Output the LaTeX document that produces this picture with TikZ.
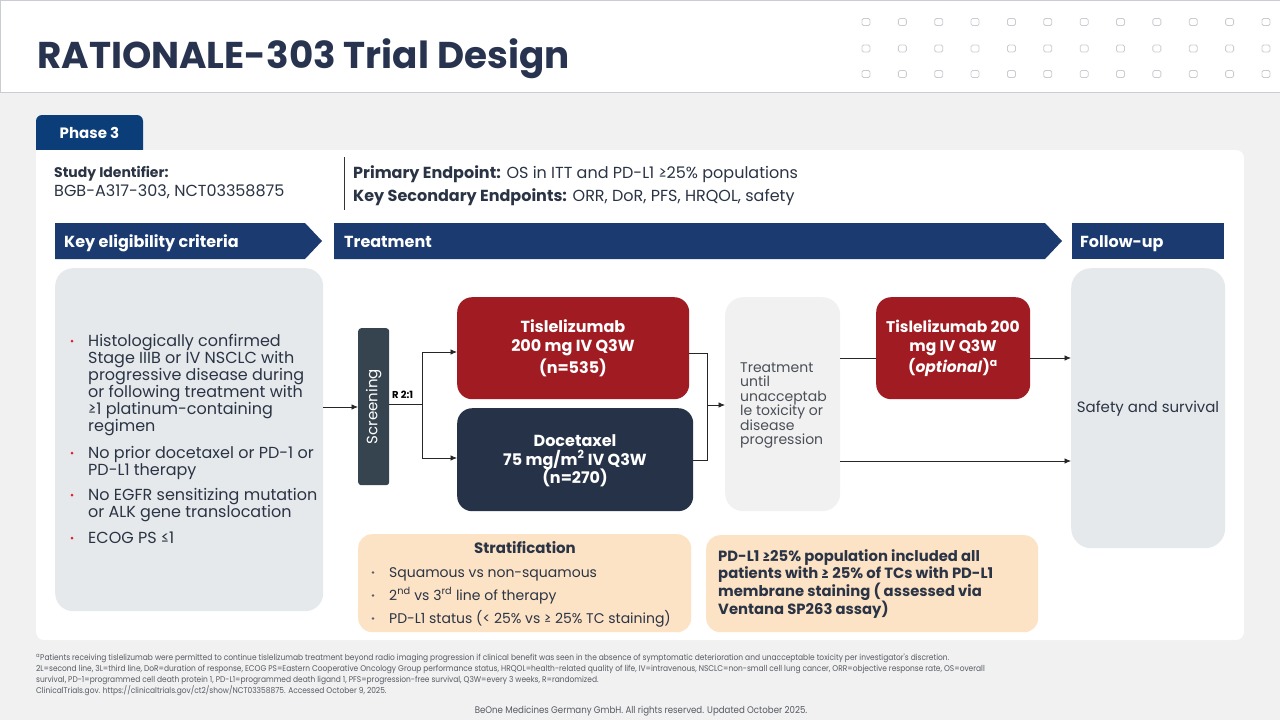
\documentclass[tikz,border=0pt]{standalone}
\usepackage{fontspec}
\setmainfont{Poppins}
\newfontfamily\condfont[FakeStretch=0.9]{Poppins}
\usetikzlibrary{arrows.meta}
\definecolor{bgc}{HTML}{F1F1F1}
\definecolor{titlec}{HTML}{283350}
\definecolor{navy}{HTML}{1B3A70}
\definecolor{tabc}{HTML}{0B3D78}
\definecolor{redc}{HTML}{A11C22}
\definecolor{docc}{HTML}{263248}
\definecolor{scrc}{HTML}{36444F}
\definecolor{grayc}{HTML}{E6E9EC}
\definecolor{peach}{HTML}{FDE3C6}
\definecolor{txtc}{HTML}{2B3445}
\definecolor{untilc}{HTML}{4A4F57}
\definecolor{dotc}{HTML}{C9CDD2}
\definecolor{lightbox}{HTML}{F1F1F1}
\definecolor{bulletred}{HTML}{E0202A}
\definecolor{footc}{HTML}{555A62}
\begin{document}
\begin{tikzpicture}[x=1pt,y=-1pt,
  arr/.style={-{Latex[length=6.5pt,width=5.5pt]}, line width=0.8pt, draw=black!85},
  conn/.style={line width=0.8pt, draw=black!85},
  lbl/.style={inner sep=0pt, anchor=base west, text=txtc},
  clbl/.style={inner sep=0pt, anchor=base, text=white, font=\bfseries\fontsize{15.5}{18}\selectfont},
  boxn/.style={inner sep=0pt, anchor=north west, draw=none},
  bigf/.style={font=\fontsize{16}{17}\selectfont},
  banner/.style={inner sep=0pt, anchor=base west, text=white, font=\bfseries\fontsize{16}{18}\selectfont},
  bdot/.style={circle, fill=bulletred, inner sep=0pt, minimum size=3pt},
  sdot/.style={circle, fill=txtc!80, inner sep=0pt, minimum size=2.6pt},
  foot/.style={inner sep=0pt, anchor=base west, text=footc, font=\condfont\fontsize{8.3}{9}\selectfont},
]
\useasboundingbox (0,0) rectangle (1280,720);
\fill[bgc] (0,0) rectangle (1280,720);
% header
\fill[white] (0,0) rectangle (1280,92);
\draw[dotc, line width=1pt] (0,0.5) -- (1280,0.5) (0,92) -- (1280,92) (0.5,0) -- (0.5,92);
\node[lbl, text=titlec, font=\bfseries\fontsize{37.3}{40}\selectfont] (title) at (37,68) {RATIONALE-303 Trial Design};
\foreach \i in {0,...,11} \foreach \j in {22,48.5,74}
  \draw[dotc, line width=0.8pt, rounded corners=1.5pt] ({866+36.36*\i-4},\j-3.5) rectangle ++(8,7);
% tab and panel
\fill[tabc, rounded corners=6pt] (36,115) rectangle (143,160);
\fill[white, rounded corners=8pt] (36,150) rectangle (1244,640);
\fill[white] (36,150) rectangle (50,165);
\node[inner sep=0pt, anchor=base, text=white, font=\bfseries\fontsize{15}{18}\selectfont] (phase) at (89.5,138) {Phase 3};
% study info
\node[lbl, font=\bfseries\fontsize{14}{16}\selectfont] (sid) at (54,177) {Study Identifier:};
\node[lbl, font=\fontsize{16}{17}\selectfont] (sidv) at (54,196) {BGB-A317-303, NCT03358875};
\draw[black!80, line width=0.8pt] (344,157) -- (344,210);
\node[lbl, font=\fontsize{16}{18}\selectfont] (pe) at (353,178) {\textbf{Primary Endpoint:} OS in ITT and PD-L1 ≥25\% populations};
\node[lbl, font=\fontsize{16}{18}\selectfont] (kse) at (353,201) {\textbf{Key Secondary Endpoints:} ORR, DoR, PFS, HRQOL, safety};
% banners
\fill[navy] (55,223) -- (305,223) -- (322,241) -- (305,259) -- (55,259) -- cycle;
\fill[navy] (334,223) -- (1045,223) -- (1062,241) -- (1045,259) -- (334,259) -- cycle;
\fill[navy] (1072,223) rectangle (1224,259);
\node[banner] (bel) at (64,247) {Key eligibility criteria};
\node[banner] (btr) at (344,247) {Treatment};
\node[banner] (bfu) at (1080,247) {Follow-up};
% eligibility box
\node[boxn, fill=grayc, rounded corners=18pt, minimum width=268pt, minimum height=343pt] (elig) at (55,268) {};
\foreach \t [count=\k] in {Histologically confirmed, Stage IIIB or IV NSCLC with, progressive disease during, or following treatment with, ≥1 platinum-containing, regimen}
  \node[lbl, bigf] (ea\k) at (88,{346+17*(\k-1)}) {\t};
\foreach \t [count=\k] in {No prior docetaxel or PD-1 or, PD-L1 therapy}
  \node[lbl, bigf] (eb\k) at (88,{458+17*(\k-1)}) {\t};
\foreach \t [count=\k] in {No EGFR sensitizing mutation, or ALK gene translocation}
  \node[lbl, bigf] (ec\k) at (88,{500+17*(\k-1)}) {\t};
\node[lbl, bigf] (ed1) at (88,543) {ECOG PS ≤1};
\foreach \y [count=\k] in {346,458,500,543}
  \node[bdot] (bd\k) at (72,\y-5) {};
% screening
\node[boxn, fill=scrc, rounded corners=3pt, minimum width=31pt, minimum height=157pt] (scr) at (358,328) {};
\node[rotate=90, text=white, inner sep=0pt, font=\fontsize{15}{17}\selectfont] (scrt) at (scr.center) {Screening};
\node[lbl, text=black, font=\bfseries\fontsize{10}{12}\selectfont] (r21) at (392,398) {R 2:1};
% arms
\node[boxn, fill=redc, rounded corners=15pt, minimum width=232pt, minimum height=102pt] (tis) at (457,297) {};
\node[clbl, font=\bfseries\fontsize{16}{18}\selectfont] (tis1) at (573,332) {Tislelizumab};
\node[clbl, font=\bfseries\fontsize{16}{18}\selectfont] (tis2) at (573,351) {200 mg IV Q3W};
\node[clbl, font=\bfseries\fontsize{16}{18}\selectfont] (tis3) at (573,373) {(n=535)};
\node[boxn, fill=docc, rounded corners=15pt, minimum width=236pt, minimum height=103pt] (doc) at (457,408) {};
\node[clbl, font=\bfseries\fontsize{16}{18}\selectfont] (doc1) at (575,446) {Docetaxel};
\node[clbl, font=\bfseries\fontsize{16}{18}\selectfont] (doc2) at (575,465) {75 mg/m\textsuperscript{2} IV Q3W};
\node[clbl, font=\bfseries\fontsize{16}{18}\selectfont] (doc3) at (575,483) {(n=270)};
% until box
\node[boxn, fill=lightbox, rounded corners=18pt, minimum width=115pt, minimum height=214pt] (until) at (725,297) {};
\foreach \t [count=\k] in {Treatment, until, unacceptab, le toxicity or, disease, progression}
  \node[lbl, text=untilc, font=\fontsize{14}{15}\selectfont] (ut\k) at (740,{372+14.5*(\k-1)}) {\t};
% optional box
\node[boxn, fill=redc, rounded corners=15pt, minimum width=154pt, minimum height=102pt] (opt) at (876,297) {};
\node[clbl] (opt1) at (953,332) {Tislelizumab 200};
\node[clbl] (opt2) at (953,351) {mg IV Q3W};
\node[clbl] (opt3) at (953,372) {(\textit{optional})\textsuperscript{a}};
% follow-up
\node[boxn, fill=grayc, rounded corners=20pt, minimum width=154pt, minimum height=280pt] (fu) at (1071,268) {};
\node[inner sep=0pt, anchor=base, text=txtc, font=\fontsize{15}{17}\selectfont] (fut) at (1148,412) {Safety and survival};
% connectors
\coordinate (split) at (422,404);
\coordinate (join) at (707,405);
\draw[arr] (elig.east |- 0,407) -- (scr.west |- 0,407);
\draw[conn] (scr.east |- split) -- (split);
\draw[arr] (split) |- (tis.west |- 0,352);
\draw[arr] (split) |- (doc.west |- 0,458);
\draw[conn] (tis.east |- 0,353) -| (join);
\draw[conn] (doc.east |- 0,460) -| (join);
\draw[arr] (join) -- (until.west |- join);
\draw[conn] (until.east |- 0,358) -- (opt.west |- 0,358);
\draw[arr] (opt.east |- 0,358) -- (fu.west |- 0,358);
\draw[arr] (until.east |- 0,461) -- (fu.west |- 0,461);
% stratification
\node[boxn, fill=peach, rounded corners=14pt, minimum width=333pt, minimum height=98pt] (strat) at (358,534) {};
\node[inner sep=0pt, anchor=base, text=txtc, font=\bfseries\fontsize{15}{17}\selectfont] (stt) at (525,553) {Stratification};
\node[lbl, font=\fontsize{14}{17}\selectfont] (st1) at (389,577) {Squamous vs non-squamous};
\node[lbl, font=\fontsize{14}{17}\selectfont] (st2) at (389,600) {2\textsuperscript{nd} vs 3\textsuperscript{rd} line of therapy};
\node[lbl, font=\fontsize{14}{17}\selectfont] (st3) at (389,623) {PD-L1 status (< 25\% vs ≥ 25\% TC staining)};
\foreach \y [count=\k] in {577,600,623}
  \node[sdot] (sd\k) at (373,\y-4.5) {};
% PD-L1 box
\node[boxn, fill=peach, rounded corners=14pt, minimum width=332pt, minimum height=97pt] (pdl) at (706,535) {};
\foreach \t [count=\k] in {PD-L1 ≥25\% population included all, patients with ≥ 25\% of TCs with PD-L1, membrane staining ( assessed via, Ventana SP263 assay)}
  \node[lbl, font=\bfseries\fontsize{14.8}{17}\selectfont] (pd\k) at (718,{561+17.7*(\k-1)}) {\t};
% footnotes
\node[foot] (f1) at (36,660) {\textsuperscript{a}Patients receiving tislelizumab were permitted to continue tislelizumab treatment beyond radio imaging progression if clinical benefit was seen in the absence of symptomatic deterioration and unacceptable toxicity per investigator's discretion.};
\node[foot] (f2) at (36,671) {2L=second line, 3L=third line, DoR=duration of response, ECOG PS=Eastern Cooperative Oncology Group performance status, HRQOL=health-related quality of life, IV=intravenous, NSCLC=non-small cell lung cancer, ORR=objective response rate, OS=overall};
\node[foot] (f3) at (36,682) {survival, PD-1=programmed cell death protein 1, PD-L1=programmed death ligand 1, PFS=progression-free survival, Q3W=every 3 weeks, R=randomized.};
\node[foot] (f4) at (36,693) {ClinicalTrials.gov. https://clinicaltrials.gov/ct2/show/NCT03358875. Accessed October 9, 2025.};
\node[foot, anchor=base, font=\condfont\fontsize{9.6}{11}\selectfont] (f5) at (641,713) {BeOne Medicines Germany GmbH. All rights reserved. Updated October 2025.};
\end{tikzpicture}
\end{document}
